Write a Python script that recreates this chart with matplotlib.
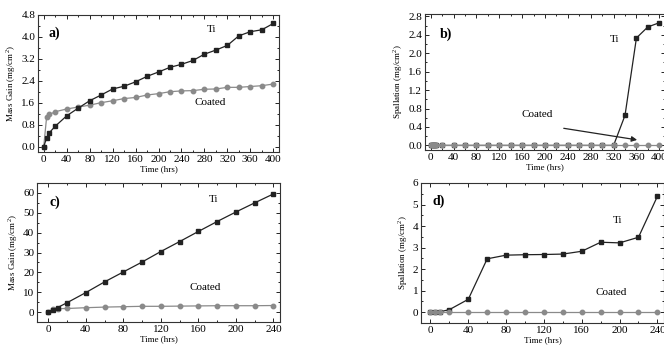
import matplotlib
matplotlib.use("Agg")
import matplotlib.pyplot as plt
from matplotlib.ticker import MultipleLocator, FormatStrFormatter

plt.rcParams['font.family'] = ['Liberation Serif', 'DejaVu Serif']
plt.rcParams['mathtext.fontset'] = 'custom'
plt.rcParams['mathtext.rm'] = 'Liberation Serif'

# Panel a: mass gain, 400 h
a_t = [0, 5, 10, 20, 40, 60, 80, 100, 120, 140, 160, 180, 200, 220, 240, 260, 280, 300, 320, 340, 360, 380, 400]
a_ti = [0, 0.31, 0.51, 0.74, 1.12, 1.40, 1.67, 1.88, 2.10, 2.20, 2.36, 2.56, 2.72, 2.89, 3.00, 3.14, 3.37, 3.52, 3.69, 4.04, 4.19, 4.26, 4.49]
a_coated = [0, 1.07, 1.17, 1.27, 1.37, 1.44, 1.51, 1.60, 1.67, 1.75, 1.79, 1.88, 1.93, 2.00, 2.03, 2.04, 2.09, 2.10, 2.16, 2.16, 2.19, 2.22, 2.28]

# Panel b: spallation, 400 h
b_t = [0, 2, 4, 6, 8, 10, 20, 40, 60, 80, 100, 120, 140, 160, 180, 200, 220, 240, 260, 280, 300, 320, 340, 360, 380, 400]
b_ti = [0, 0, 0, 0, 0, 0, 0, 0, 0, 0, 0, 0, 0, 0, 0, 0, 0, 0, 0, 0, 0, 0, 0.65, 2.33, 2.57, 2.66]
b_coated = [0] * 26

# Panel c: mass gain, 240 h
c_t = [0, 5, 10, 20, 40, 60, 80, 100, 120, 140, 160, 180, 200, 220, 240]
c_ti = [0, 1.2, 2.3, 4.7, 9.8, 15.2, 20.2, 25.2, 30.5, 35.5, 40.6, 45.6, 50.4, 55.0, 59.5]
c_coated = [0, 1.3, 1.7, 1.8, 2.2, 2.5, 2.7, 2.9, 2.9, 3.0, 3.1, 3.2, 3.2, 3.2, 3.3]

# Panel d: spallation, 240 h
d_t = [0, 5, 10, 20, 40, 60, 80, 100, 120, 140, 160, 180, 200, 220, 240]
d_ti = [0, 0, 0.02, 0.12, 0.60, 2.48, 2.65, 2.67, 2.68, 2.70, 2.83, 3.25, 3.22, 3.48, 5.38]
d_coated = [0] * 15

TI_COLOR = '#222222'
CO_COLOR = '#8a8a8a'

fig = plt.figure(figsize=(6.64, 3.54), dpi=100)
W, H = 664, 354

def add_ax(l, r, t, b):
    return fig.add_axes([l / W, 1 - b / H, (r - l) / W, (b - t) / H])

axa = add_ax(38, 279, 15, 152)
axb = add_ax(425, 665, 14, 150)
axc = add_ax(37, 280, 183, 322)
axd = add_ax(421, 664, 183, 323)

def style(ax, xmaj, xmin, ymaj, ymin):
    ax.xaxis.set_major_locator(MultipleLocator(xmaj))
    ax.xaxis.set_minor_locator(MultipleLocator(xmin))
    ax.yaxis.set_major_locator(MultipleLocator(ymaj))
    ax.yaxis.set_minor_locator(MultipleLocator(ymin))
    ax.tick_params(which='both', direction='in', top=True, right=True, labelsize=8, pad=2, width=0.6)
    ax.tick_params(which='major', length=3)
    ax.tick_params(which='minor', length=1.5)
    for s in ax.spines.values():
        s.set_linewidth(0.8)
        s.set_color('#333333')

def plot_pair(ax, t, ti, co, coated_on_top=False):
    zc = 4 if coated_on_top else 2
    ax.plot(t, co, '-o', color=CO_COLOR, lw=0.9, ms=3.2, mfc=CO_COLOR, mec=CO_COLOR, zorder=zc)
    ax.plot(t, ti, '-s', color=TI_COLOR, lw=0.9, ms=3.0, mfc=TI_COLOR, mec=TI_COLOR, zorder=3)

LBL = 6.5

# a
plot_pair(axa, a_t, a_ti, a_coated)
axa.set_xlim(-10, 410)
axa.set_ylim(-0.2, 4.8)
style(axa, 40, 20, 0.8, 0.4)
axa.yaxis.set_major_formatter(FormatStrFormatter('%.1f'))
axa.set_xlabel('Time (hrs)', fontsize=LBL, labelpad=1)
axa.set_ylabel('Mass Gain (mg/cm$^2$)', fontsize=LBL, labelpad=2)
axa.text(19, 4.13, 'a)', fontsize=10, fontweight='bold', ha='center', va='center')
axa.text(293, 4.27, 'Ti', fontsize=8, ha='center', va='center')
axa.text(290, 1.62, 'Coated', fontsize=8, ha='center', va='center')

# b
plot_pair(axb, b_t, b_ti, b_coated, coated_on_top=True)
axb.set_xlim(-10, 410)
axb.set_ylim(-0.1, 2.85)
style(axb, 40, 20, 0.4, 0.2)
axb.yaxis.set_major_formatter(FormatStrFormatter('%.1f'))
axb.set_xlabel('Time (hrs)', fontsize=LBL, labelpad=1)
axb.set_ylabel('Spallation (mg/cm$^2$)', fontsize=LBL, labelpad=2)
axb.text(27, 2.42, 'b)', fontsize=10, fontweight='bold', ha='center', va='center')
axb.text(322, 2.29, 'Ti', fontsize=8, ha='center', va='center')
axb.text(187, 0.675, 'Coated', fontsize=8, ha='center', va='center')
axb.annotate('', xy=(366, 0.11), xytext=(228, 0.38),
             arrowprops=dict(arrowstyle='-|>', color='#222222', lw=0.9, mutation_scale=8))

# c
plot_pair(axc, c_t, c_ti, c_coated)
axc.set_xlim(-12, 247)
axc.set_ylim(-5, 65)
style(axc, 40, 20, 10, 5)
axc.set_xlabel('Time (hrs)', fontsize=LBL, labelpad=1)
axc.set_ylabel('Mass Gain (mg/cm$^2$)', fontsize=LBL, labelpad=2)
axc.text(7, 55.4, 'c)', fontsize=10, fontweight='bold', ha='center', va='center')
axc.text(176, 56.6, 'Ti', fontsize=8, ha='center', va='center')
axc.text(167, 12.3, 'Coated', fontsize=8, ha='center', va='center')

# d
plot_pair(axd, d_t, d_ti, d_coated, coated_on_top=True)
axd.set_xlim(-10, 247)
axd.set_ylim(-0.5, 6)
style(axd, 40, 20, 1, 0.5)
axd.set_xlabel('Time (hrs)', fontsize=LBL, labelpad=1)
axd.set_ylabel('Spallation (mg/cm$^2$)', fontsize=LBL, labelpad=2)
axd.text(9, 5.15, 'd)', fontsize=10, fontweight='bold', ha='center', va='center')
axd.text(198, 4.25, 'Ti', fontsize=8, ha='center', va='center')
axd.text(191, 0.93, 'Coated', fontsize=8, ha='center', va='center')

fig.savefig('out.png', dpi=100)
